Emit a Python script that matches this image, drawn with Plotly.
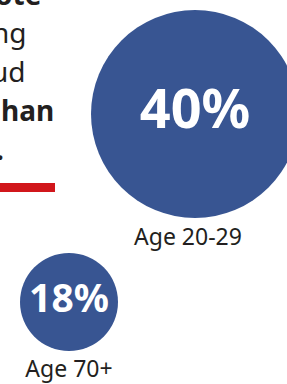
import plotly.graph_objects as go

# ---- data ----
age_groups = ["Age 20-29", "Age 70+"]
shares = [40, 18]
share_labels = ["40%", "18%"]

# visible fragments of the (cropped) headline text
headline_lines = ["ote", "ng", "ud", "han", "."]
headline_bold = [True, False, False, True, True]

# ---- layout constants (pixel space) ----
W, H = 287, 384
BLUE = "#385592"
RED = "#d1161b"
INK = "#231f20"
FONT = "Noto Sans"

centers_x = [195, 69]
centers_y = [114, 302]
label_y = [239, 371]
label_x = [188, 69]
value_font_sizes = [54, 39]
sizes = [8 + 5 * v for v in shares]   # marker diameter from value

fig = go.Figure()

fig.add_trace(go.Scatter(
    x=centers_x, y=centers_y,
    mode="markers+text",
    text=share_labels,
    textposition="middle center",
    textfont=dict(family=FONT, size=value_font_sizes, color="white", weight="bold"),
    marker=dict(size=sizes, sizemode="diameter", color=BLUE, line=dict(width=0), opacity=1),
    hoverinfo="skip",
    showlegend=False,
))

fig.add_trace(go.Scatter(
    x=label_x, y=label_y,
    mode="text",
    text=age_groups,
    textposition="middle center",
    textfont=dict(family=FONT, size=23, color=INK),
    hoverinfo="skip",
    showlegend=False,
))

# headline fragments (paper coords so partially-cropped lines still draw)
line_right = [43, 29, 28, 56, 6]
line_base = [3, 41, 80, 119, 158]
for txt, bold, xr, yb in zip(headline_lines, headline_bold, line_right, line_base):
    fig.add_annotation(
        x=xr / W, y=1 - (yb - 9) / H, xref="paper", yref="paper",
        text=f"<b>{txt}</b>" if bold else txt,
        showarrow=False, xanchor="right", yanchor="middle",
        font=dict(family=FONT, size=28, color=INK),
    )

# red rule
fig.add_shape(type="rect", x0=0, x1=55, y0=183, y1=192,
              xref="x", yref="y", fillcolor=RED, line=dict(width=0))

fig.update_layout(
    width=W, height=H,
    margin=dict(l=0, r=0, t=0, b=0),
    paper_bgcolor="white", plot_bgcolor="white",
    xaxis=dict(range=[0, W], visible=False, fixedrange=True),
    yaxis=dict(range=[H, 0], visible=False, fixedrange=True),
)

fig.write_html("out.html",
               config={"displayModeBar": False},
               post_script="document.body.style.margin='0';document.body.style.overflow='hidden';")
